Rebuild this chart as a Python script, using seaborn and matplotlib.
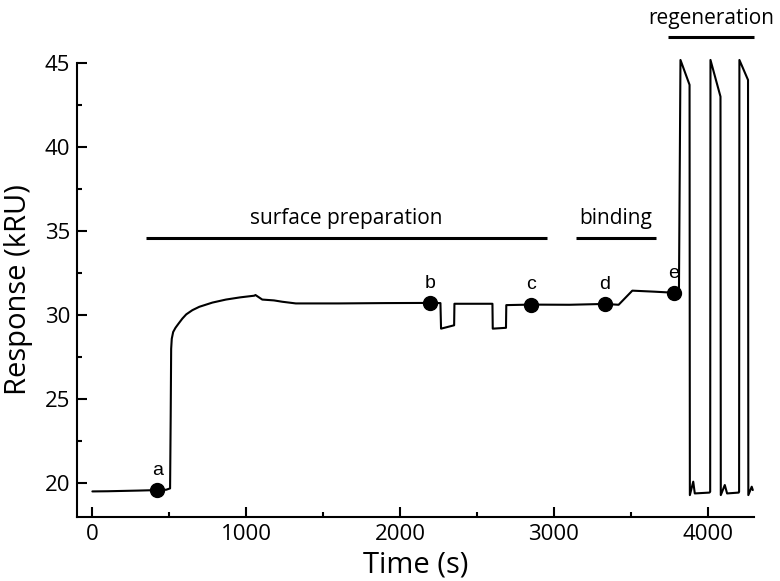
import numpy as np
import pandas as pd
import matplotlib
matplotlib.use("Agg")
import matplotlib.pyplot as plt
import seaborn as sns
from matplotlib.ticker import MultipleLocator

# sensorgram trace (time in s, response in kRU)
time_s = [0, 100, 200, 300, 422, 480, 505, 509, 512, 516, 525, 540, 560, 585,
          610, 650, 695, 780, 868, 960, 1052, 1060, 1104, 1180, 1234, 1322,
          1600, 1900, 2195, 2262, 2266, 2351, 2353, 2600, 2602, 2688, 2690,
          2851, 3100, 3331, 3420, 3509, 3650, 3812, 3822, 3881, 3883, 3905,
          3915, 4010, 4015, 4017, 4082, 4084, 4110, 4125, 4200, 4203, 4205,
          4261, 4263, 4285, 4292]
response = [19.52, 19.53, 19.55, 19.57, 19.60, 19.62, 19.70, 24.0, 28.0, 28.6,
            29.0, 29.25, 29.5, 29.8, 30.05, 30.3, 30.5, 30.75, 30.93, 31.06,
            31.16, 31.2, 30.93, 30.88, 30.8, 30.7, 30.7, 30.72, 30.73, 30.72,
            29.2, 29.4, 30.68, 30.68, 29.2, 29.25, 30.6, 30.63, 30.62, 30.67,
            30.62, 31.46, 31.4, 31.32, 45.18, 43.7, 19.3, 20.1, 19.4, 19.45,
            19.5, 45.18, 43.0, 19.3, 19.9, 19.4, 19.45, 19.5, 45.18, 43.99,
            19.3, 19.8, 19.6]

# labelled points
point_labels = ["a", "b", "c", "d", "e"]
point_time = [422, 2195, 2851, 3331, 3779]
point_resp = [19.6, 30.73, 30.63, 30.67, 31.34]

# experiment phases (bars above the trace)
phase_names = ["surface preparation", "binding", "regeneration"]
phase_start = [350, 3140, 3742]
phase_end = [2955, 3660, 4299]
phase_level = [34.61, 34.61, 46.53]

df = pd.DataFrame({"Time (s)": time_s, "Response (kRU)": response})

sns.set_style("ticks")
plt.rcParams["font.family"] = ["Open Sans", "DejaVu Sans"]
plt.rcParams["text.color"] = "black"
plt.rcParams["axes.labelcolor"] = "black"

fig, ax = plt.subplots(figsize=(7.8, 5.81), dpi=100)
fig.subplots_adjust(left=0.0987, right=0.9667, bottom=0.1102, top=0.8916)

sns.lineplot(data=df, x="Time (s)", y="Response (kRU)", sort=False,
             estimator=None, color="black", linewidth=1.5, ax=ax)
for ln in ax.lines:
    ln.set_clip_on(False)

ax.plot(point_time, point_resp, "o", color="black", markersize=10,
        clip_on=False, zorder=5)
for lab, t, r in zip(point_labels, point_time, point_resp):
    ax.annotate(lab, (t, r), xytext=(0, 8), textcoords="offset points",
                ha="center", va="bottom", fontsize=14,
                family=["Liberation Sans", "DejaVu Sans"])

for name, s, e, lvl in zip(phase_names, phase_start, phase_end, phase_level):
    ax.hlines(lvl, s, e, color="black", linewidth=2.2, clip_on=False)
    ax.annotate(name, ((s + e) / 2, lvl), xytext=(0, 6),
                textcoords="offset points", ha="center", va="bottom",
                fontsize=15, annotation_clip=False)

ax.set_xlim(-100, 4300)
ax.set_ylim(18, 45)
ax.xaxis.set_major_locator(MultipleLocator(1000))
ax.xaxis.set_minor_locator(MultipleLocator(500))
ax.yaxis.set_major_locator(MultipleLocator(5))
ax.yaxis.set_minor_locator(MultipleLocator(2.5))
ax.tick_params(which="both", direction="in", width=1.5, labelsize=16,
               colors="black", pad=5)
ax.tick_params(which="major", length=7)
ax.tick_params(which="minor", length=3.5)

sns.despine(ax=ax)
for side in ["left", "bottom"]:
    ax.spines[side].set_linewidth(1.5)
    ax.spines[side].set_color("black")

ax.set_xlabel("Time (s)", fontsize=21, labelpad=4)
ax.set_ylabel("Response (kRU)", fontsize=21, labelpad=8)

fig.savefig("out.png", dpi=100)
